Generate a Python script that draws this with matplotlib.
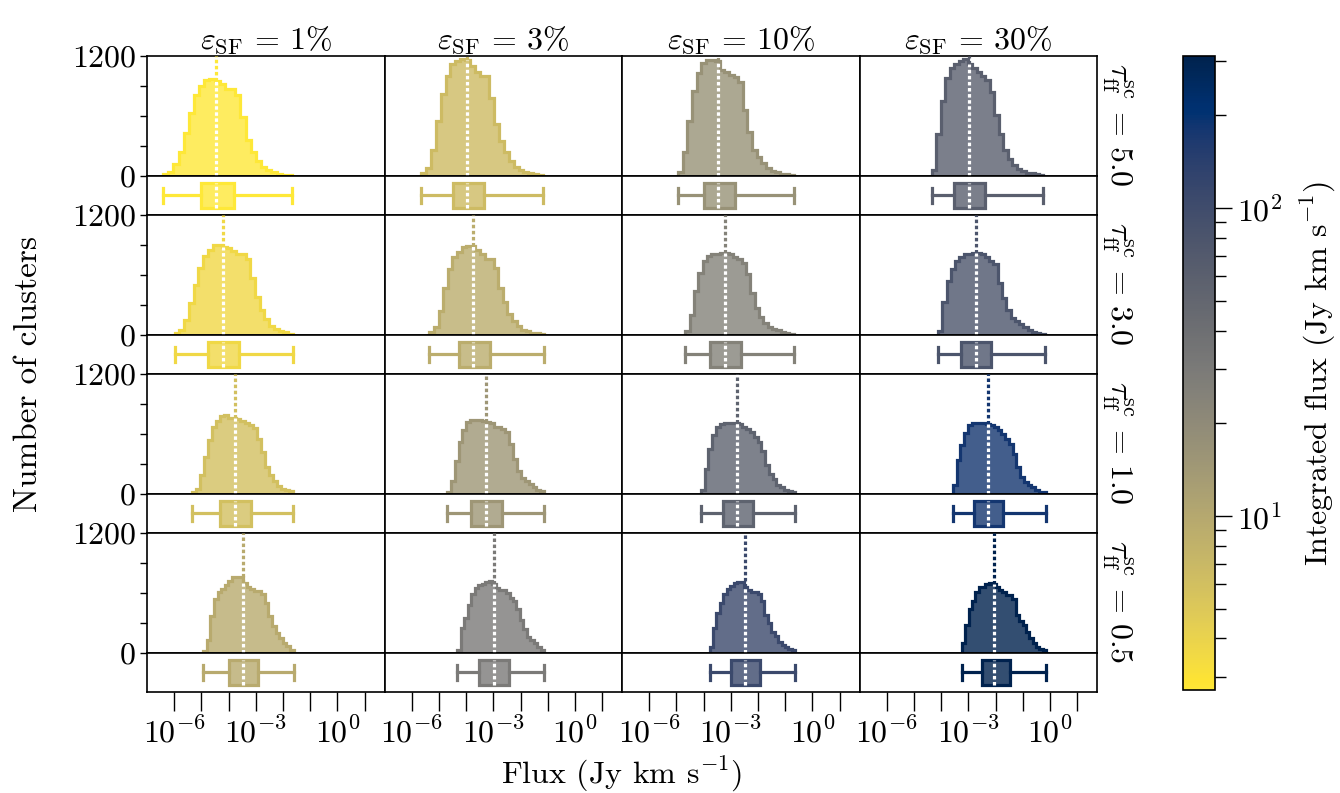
import numpy as np
import matplotlib
matplotlib.use('Agg')
import matplotlib.pyplot as plt
from matplotlib.colors import LogNorm
from matplotlib.cm import ScalarMappable
import matplotlib.ticker as mticker

plt.rcParams['font.family'] = ['cmr10', 'DejaVu Serif']
plt.rcParams['mathtext.fontset'] = 'cm'
plt.rcParams['axes.formatter.use_mathtext'] = True
plt.rcParams['axes.linewidth'] = 1.2

# star formation efficiency per column, tau_ff per row
eps_labels = ['1', '3', '10', '30']
tau_labels = ['5.0', '3.0', '1.0', '0.5']

# integrated flux of each model (Jy km/s), rows = tau, cols = eps
total_flux = [[2.72, 6.5, 17.0, 60.0],
              [3.6, 9.0, 25.0, 80.0],
              [6.0, 15.0, 55.0, 180.0],
              [9.5, 30.0, 110.0, 312.0]]

# log10 flux: min, first quartile, median, third quartile, max
flux_min = [[-6.41, -5.65, -4.94, -4.34],
            [-5.98, -5.35, -4.67, -4.11],
            [-5.35, -4.71, -4.10, -3.57],
            [-4.94, -4.32, -3.78, -3.24]]
flux_q1 = [[-5.00, -4.50, -4.00, -3.52],
           [-4.76, -4.25, -3.75, -3.27],
           [-4.30, -3.83, -3.30, -2.81],
           [-3.97, -3.51, -2.99, -2.50]]
flux_med = [[-4.45, -3.97, -3.46, -2.97],
            [-4.19, -3.73, -3.23, -2.72],
            [-3.75, -3.27, -2.76, -2.28],
            [-3.47, -2.99, -2.49, -2.04]]
flux_q3 = [[-3.81, -3.36, -2.83, -2.38],
           [-3.62, -3.14, -2.63, -2.16],
           [-3.18, -2.69, -2.18, -1.73],
           [-2.92, -2.44, -1.94, -1.46]]
flux_max = [[-1.67, -1.18, -0.69, -0.24],
            [-1.64, -1.13, -0.69, -0.20],
            [-1.63, -1.13, -0.63, -0.14],
            [-1.61, -1.13, -0.63, -0.14]]

# histogram counts (25 log bins between min and max)
hist_tau50 = [
    [20, 44, 119, 238, 432, 626, 809, 901, 955, 972, 950, 921, 867, 867, 809, 585, 360, 238, 153, 95, 61, 37, 24, 14, 10],
    [27, 85, 265, 554, 819, 996, 1115, 1149, 1166, 1156, 1098, 1040, 996, 996, 775, 520, 350, 238, 153, 95, 61, 44, 27, 20, 14],
    [44, 238, 554, 850, 1030, 1132, 1156, 1156, 1149, 1064, 1040, 1013, 986, 938, 656, 442, 265, 190, 129, 78, 54, 37, 20, 17, 14],
    [61, 418, 748, 979, 1081, 1115, 1149, 1166, 1115, 1081, 1040, 996, 962, 843, 605, 418, 258, 170, 112, 68, 51, 34, 30, 20, 14]]
hist_tau30 = [
    [20, 54, 146, 323, 503, 673, 792, 850, 901, 901, 884, 870, 843, 809, 809, 758, 571, 384, 255, 156, 95, 61, 44, 27, 14],
    [27, 78, 238, 469, 656, 775, 826, 877, 894, 894, 850, 809, 758, 758, 673, 469, 326, 214, 136, 88, 54, 37, 24, 20, 14],
    [44, 197, 435, 622, 741, 792, 809, 809, 823, 823, 809, 782, 758, 724, 605, 418, 275, 180, 122, 78, 65, 54, 34, 17, 14],
    [44, 326, 537, 656, 741, 782, 809, 809, 816, 816, 809, 775, 741, 707, 520, 374, 248, 170, 140, 112, 78, 51, 34, 20, 14]]
hist_tau10 = [
    [20, 54, 190, 367, 544, 666, 734, 775, 785, 758, 758, 748, 734, 714, 690, 656, 554, 418, 265, 190, 129, 85, 54, 40, 27],
    [20, 129, 333, 520, 639, 724, 741, 741, 741, 734, 724, 707, 673, 673, 646, 622, 503, 350, 231, 156, 130, 102, 68, 40, 27],
    [44, 248, 452, 588, 666, 700, 714, 714, 714, 714, 700, 673, 646, 622, 571, 520, 428, 292, 204, 146, 95, 68, 44, 27, 20],
    [95, 340, 486, 605, 690, 714, 714, 707, 707, 700, 690, 666, 639, 598, 554, 500, 401, 272, 170, 125, 95, 68, 41, 25, 20]]
hist_tau05 = [
    [20, 129, 374, 537, 605, 640, 680, 724, 758, 758, 758, 700, 656, 639, 622, 622, 588, 496, 367, 272, 197, 146, 100, 70, 34],
    [34, 248, 350, 476, 588, 646, 680, 690, 714, 724, 690, 646, 632, 632, 598, 554, 520, 442, 333, 238, 163, 130, 100, 61, 34],
    [61, 248, 401, 503, 588, 639, 673, 700, 714, 714, 656, 632, 612, 612, 588, 520, 380, 300, 214, 170, 112, 85, 65, 44, 27],
    [102, 282, 435, 520, 605, 656, 656, 690, 700, 690, 656, 632, 605, 578, 578, 537, 384, 320, 280, 214, 146, 95, 65, 45, 27]]
hists = [hist_tau50, hist_tau30, hist_tau10, hist_tau05]

fs = 23
dots = (0, (1.1, 0.8))
cmap = plt.get_cmap('cividis_r')
allflux = np.array(total_flux)
norm = LogNorm(vmin=allflux.min(), vmax=allflux.max())

fig = plt.figure(figsize=(13.4, 7.93), dpi=100)
gs = fig.add_gridspec(8, 4, left=0.1097, right=0.8187, top=0.9294, bottom=0.1274,
                      hspace=0, wspace=0, height_ratios=[3.08, 1] * 4)

xticks = 10.0 ** np.arange(-6, 2)
xlabels = ['' if k % 3 else r'$10^{%d}$' % k for k in range(-6, 2)]

for i in range(4):
    for j in range(4):
        ax = fig.add_subplot(gs[2 * i, j])
        axb = fig.add_subplot(gs[2 * i + 1, j])
        col = cmap(norm(total_flux[i][j]))
        fill_col = (col[0], col[1], col[2], 0.8)
        counts = np.array(hists[i][j])
        edges = np.logspace(flux_min[i][j], flux_max[i][j], len(counts) + 1)
        med = 10 ** flux_med[i][j]

        ax.stairs(counts, edges, fill=True, color=fill_col, lw=0, zorder=1)
        ax.stairs(counts, edges, color=col, lw=2.3, zorder=2)
        k = np.searchsorted(edges, med) - 1
        ax.vlines(med, counts[k], 1200, color=col, ls=dots, lw=2.3, zorder=3)
        ax.vlines(med, 0, counts[k], color='white', ls=dots, lw=2.3, zorder=3)
        ax.set_xscale('log')
        ax.set_xlim(10 ** -7.0, 10 ** 1.73)
        ax.set_ylim(0, 1200)
        ax.xaxis.set_minor_locator(mticker.NullLocator())
        ax.tick_params(axis='x', bottom=False, labelbottom=False)
        if j == 0:
            ax.set_yticks([0, 300, 600, 900, 1200])
            ax.set_yticklabels(['0', '', '', '', '1200'], fontsize=fs)
            ax.tick_params(axis='y', direction='out', length=5, width=1, pad=3)
        else:
            ax.tick_params(axis='y', left=False, labelleft=False)
        if i == 0:
            ax.set_title(r'$\varepsilon_{\rm SF}\,=\,%s\%%$' % eps_labels[j], fontsize=fs, pad=5)
        if j == 3:
            ax.text(1.012, 0.43, r'$\tau_{\rm ff}^{\rm sc}\,=\,%s$' % tau_labels[i],
                    transform=ax.transAxes, rotation=270, ha='left', va='center', fontsize=fs)

        stats = [dict(med=med, q1=10 ** flux_q1[i][j], q3=10 ** flux_q3[i][j],
                      whislo=10 ** flux_min[i][j], whishi=10 ** flux_max[i][j], fliers=[])]
        axb.bxp(stats, orientation='horizontal', widths=0.64, capwidths=0.38,
                patch_artist=True, showfliers=False,
                boxprops=dict(facecolor=fill_col, edgecolor=col, lw=2.3),
                whiskerprops=dict(color=col, lw=2.3),
                capprops=dict(color=col, lw=2.3),
                medianprops=dict(color='white', lw=2.3, ls=dots))
        axb.set_xscale('log')
        axb.set_xlim(10 ** -7.0, 10 ** 1.73)
        axb.set_ylim(0.5, 1.5)
        axb.set_yticks([])
        axb.xaxis.set_minor_locator(mticker.NullLocator())
        if i == 3:
            axb.set_xticks(xticks)
            axb.set_xticklabels(xlabels, fontsize=fs)
            axb.tick_params(axis='x', direction='out', length=14, width=1, pad=4)
        else:
            axb.set_xticks([])

fig.text(28 / 1340, 1 - 374 / 793, 'Number of clusters', rotation=90,
         ha='center', va='center', fontsize=24)
fig.text(622 / 1340, 1 - 774 / 793, r'Flux (Jy km s$^{-1}$)',
         ha='center', va='center', fontsize=fs)

cax = fig.add_axes([0.8828, 0.1299, 0.0239, 0.7995])
cb = fig.colorbar(ScalarMappable(norm=norm, cmap=cmap), cax=cax)
cb.outline.set_linewidth(1.2)
cb.ax.yaxis.set_minor_formatter(mticker.NullFormatter())
cb.ax.tick_params(which='major', length=12, width=1, labelsize=fs)
cb.ax.tick_params(which='minor', length=8, width=1)
cb.set_label(r'Integrated flux (Jy km s$^{-1}$)', fontsize=fs, labelpad=12)

fig.savefig('out.png', dpi=100)
